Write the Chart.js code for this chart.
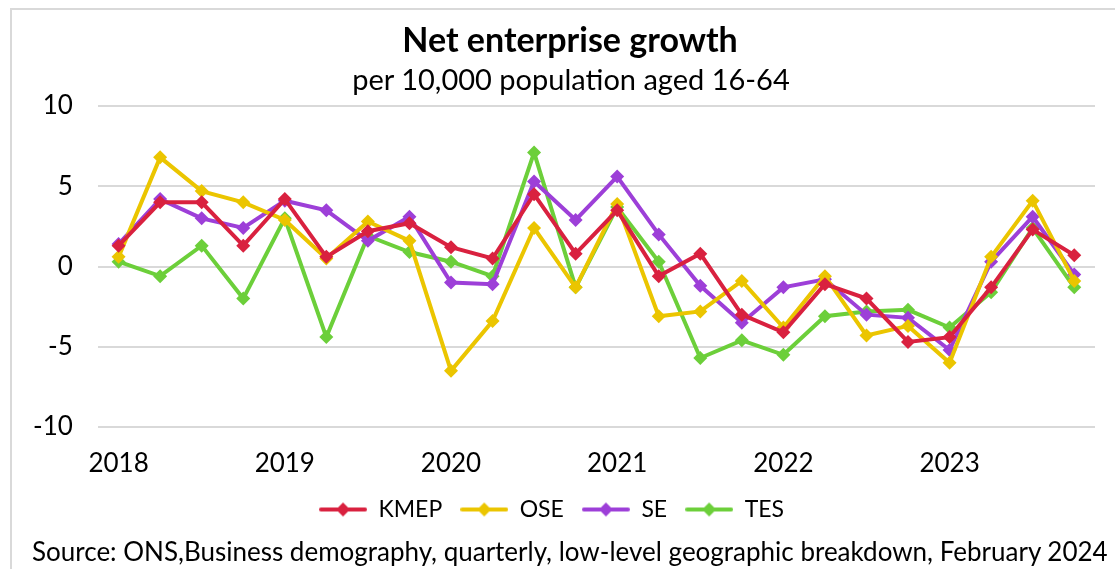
<!DOCTYPE html>
<html>
<head>
<meta charset="utf-8">
<script src="https://cdn.jsdelivr.net/npm/chart.js@4.4.1/dist/chart.umd.min.js"></script>
<style>
  html, body { margin: 0; padding: 0; background: #fff; }
  body { width: 1115px; height: 569px; position: relative; overflow: hidden; font-family: Lato, "Open Sans", sans-serif; color: #000; }
  #frame { position: absolute; left: 10px; top: 8px; width: 1200px; height: 700px; border: 2px solid #d9d9d9; box-sizing: border-box; }
  #wrap { position: absolute; left: 0; top: 0; width: 1115px; height: 569px; }
  .txt { position: absolute; white-space: nowrap; line-height: 1.2; }
  #title { left: 570px; top: 19px; transform: translateX(-50%); font-weight: bold; font-size: 34px; }
  #subtitle { left: 571px; top: 62px; transform: translateX(-50%); font-size: 29px; }
  #source { left: 32px; top: 536px; font-size: 26px; }
</style>
</head>
<body>
<div id="frame"></div>
<div id="wrap"><canvas id="growthChart" width="1115" height="569"></canvas></div>
<div class="txt" id="title">Net enterprise growth</div>
<div class="txt" id="subtitle">per 10,000 population aged 16-64</div>
<div class="txt" id="source">Source: ONS,Business demography, quarterly, low-level geographic breakdown, February 2024</div>

<script>
// Quarters 2018 Q1 .. 2023 Q4, only the first quarter carries a year label
const quarterLabels = [
    '2018', '', '', '',
    '2019', '', '', '',
    '2020', '', '', '',
    '2021', '', '', '',
    '2022', '', '', '',
    '2023', '', '', ''
];

const kmep = [1.3, 4.0, 4.0, 1.3, 4.2, 0.6, 2.2, 2.7, 1.2, 0.5, 4.5, 0.8,
              3.5, -0.6, 0.8, -3.0, -4.1, -1.1, -2.0, -4.7, -4.4, -1.3, 2.3, 0.7];
const ose  = [0.6, 6.8, 4.7, 4.0, 2.9, 0.5, 2.8, 1.6, -6.5, -3.4, 2.4, -1.3,
              3.9, -3.1, -2.8, -0.9, -3.8, -0.6, -4.3, -3.7, -6.0, 0.6, 4.1, -0.9];
const se   = [1.4, 4.2, 3.0, 2.4, 4.1, 3.5, 1.6, 3.1, -1.0, -1.1, 5.3, 2.9,
              5.6, 2.0, -1.2, -3.5, -1.3, -0.8, -3.0, -3.2, -5.2, 0.3, 3.1, -0.5];
const tes  = [0.3, -0.6, 1.3, -2.0, 3.0, -4.4, 1.9, 0.9, 0.3, -0.6, 7.1, -1.3,
              3.7, 0.3, -5.7, -4.6, -5.5, -3.1, -2.8, -2.7, -3.8, -1.6, 2.4, -1.3];

const seriesNames = ['KMEP', 'OSE', 'SE', 'TES'];
const seriesColors = ['#d9213f', '#ebc500', '#9d3fd8', '#6ccf3a'];

const FONT = 'Lato, "Open Sans", sans-serif';

// small line + diamond swatch for the legend, like the spreadsheet legend
function legendSwatch(color) {
    const c = document.createElement('canvas');
    c.width = 48; c.height = 16;
    const ctx = c.getContext('2d');
    ctx.strokeStyle = color;
    ctx.lineWidth = 4;
    ctx.lineCap = 'round';
    ctx.beginPath();
    ctx.moveTo(2, 8); ctx.lineTo(46, 8);
    ctx.stroke();
    ctx.fillStyle = color;
    ctx.beginPath();
    ctx.moveTo(24, 1); ctx.lineTo(31, 8); ctx.lineTo(24, 15); ctx.lineTo(17, 8);
    ctx.closePath();
    ctx.fill();
    return c;
}

const allValues = [kmep, ose, se, tes];

const datasets = seriesNames.map((name, i) => ({
    label: name,
    data: allValues[i],
    borderColor: seriesColors[i],
    backgroundColor: seriesColors[i],
    borderWidth: 4,
    pointStyle: 'rectRot',
    pointRadius: 7,
    pointHoverRadius: 7,
    pointBorderWidth: 0,
    tension: 0,
    fill: false
}));

const ctx = document.getElementById('growthChart').getContext('2d');

new Chart(ctx, {
    type: 'line',
    data: { labels: quarterLabels, datasets: datasets },
    options: {
        responsive: false,
        animation: false,
        layout: { padding: { top: 106, left: 8, right: 20, bottom: 38 } },
        plugins: {
            title: { display: false },
            tooltip: { enabled: false },
            legend: {
                position: 'bottom',
                labels: {
                    usePointStyle: true,
                    pointStyleWidth: 48,
                    boxHeight: 16,
                    padding: 18,
                    color: '#000',
                    font: { family: FONT, size: 23 },
                    generateLabels(chart) {
                        return chart.data.datasets.map((ds, i) => ({
                            text: ds.label,
                            pointStyle: legendSwatch(ds.borderColor),
                            fillStyle: ds.borderColor,
                            strokeStyle: ds.borderColor,
                            lineWidth: 0,
                            hidden: false,
                            datasetIndex: i
                        }));
                    }
                }
            }
        },
        scales: {
            x: {
                offset: true,
                // keep the axis box just tall enough for the year labels
                afterFit(scale) { scale.height = 53; },
                grid: { display: false, drawTicks: false },
                border: { display: false },
                ticks: {
                    autoSkip: false,
                    maxRotation: 0,
                    padding: 21,
                    color: '#000',
                    font: { family: FONT, size: 26 }
                }
            },
            y: {
                min: -10,
                max: 10,
                ticks: {
                    stepSize: 5,
                    padding: 25,
                    color: '#000',
                    font: { family: FONT, size: 26 }
                },
                grid: { color: '#d9d9d9', lineWidth: 2, drawTicks: false },
                border: { display: false }
            }
        }
    }
});
</script>
</body>
</html>
